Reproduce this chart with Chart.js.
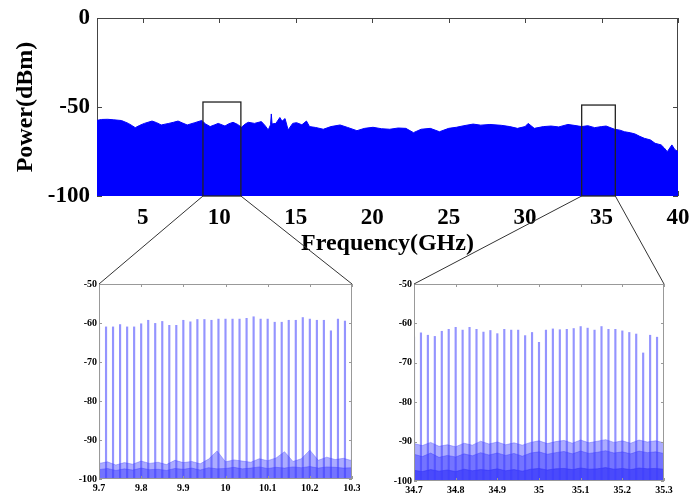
<!DOCTYPE html>
<html>
<head>
<meta charset="utf-8">
<script src="https://cdn.jsdelivr.net/npm/chart.js@4.4.0/dist/chart.umd.min.js"></script>
<style>
  body { margin: 0; background: #fff; }
  #wrap { position: relative; width: 689px; height: 497px; }
  canvas { position: absolute; }
</style>
</head>
<body>
<div id="wrap">
  <canvas id="topChart" width="689" height="258" style="left:0;top:0"></canvas>
  <canvas id="leftChart" width="300" height="227" style="left:60px;top:270px"></canvas>
  <canvas id="rightChart" width="310" height="227" style="left:370px;top:270px"></canvas>
  <canvas id="links" width="689" height="497" style="left:0;top:0;pointer-events:none"></canvas>
</div>
<script>
// full span spectrum (envelope)
const spanFreq = [2.0, 2.3, 2.7, 3.1, 3.6, 4.05, 4.3, 4.5, 4.8, 5.1, 5.6, 5.9, 6.2, 6.7, 7.0, 7.3, 7.6, 7.9, 8.4, 8.85,
  9.1, 9.4, 9.7, 9.93, 10.37, 10.6, 10.9, 11.2, 11.45, 11.7, 11.9, 12.3, 12.75, 13.0, 13.2, 13.35, 13.4, 13.45, 13.7, 13.96,
  14.1, 14.3, 14.5, 14.8, 15.05, 15.4, 15.7, 15.9, 16.3, 16.8, 17.3, 17.9, 18.4, 19.0, 19.5, 20.05, 20.6, 21.15, 21.7, 22.2,
  22.7, 23.2, 23.8, 24.4, 25.0, 25.5, 26.0, 26.6, 27.1, 27.7, 28.45, 29.0, 29.5, 30.0, 30.2, 30.6, 31.2, 31.7, 32.2, 32.8,
  33.2, 33.7, 34.1, 34.55, 35.0, 35.3, 35.85, 36.2, 36.5, 36.9, 37.2, 37.5, 37.8, 38.2, 38.5, 38.9, 39.1, 39.3, 39.6, 39.8, 40.0];
const spanPower = [-57.5, -57, -56.9, -57.2, -57.6, -59.2, -60.5, -61.6, -60.3, -59.2, -57.9, -58.8, -60.1, -59.2, -58.6, -57.9, -59, -60.1, -58.8, -57.6,
  -59.5, -61, -60, -59.2, -60.7, -59.5, -58.6, -59.8, -61.4, -59.5, -58.6, -59.2, -58.2, -60.5, -62.9, -60, -53.9, -59.5, -59.2, -55.9,
  -58, -56.5, -62.9, -59.2, -58.8, -60, -57.9, -61, -61.5, -62.5, -61, -60.1, -61.5, -63.3, -62, -61.4, -62.2, -62.5, -61.8, -62,
  -64.4, -62.5, -62, -63.9, -62, -61.4, -60.5, -59.6, -60.2, -59.8, -60.3, -61, -62, -61, -59.2, -62, -61, -60.7, -61.2, -59.8,
  -60.3, -61, -60.5, -61.6, -61, -60.7, -62.5, -63, -63.9, -64.5, -65.2, -66.5, -67.6, -68.5, -70.4, -71.3, -73, -75.1, -71.3, -74, -75];
const spanXTicks = [5, 10, 15, 20, 25, 30, 35, 40];
const spanYTicks = [-100, -50, 0];

// zoom boxes on the full span
const boxFrom = [8.93, 33.7];
const boxTo = [11.41, 35.9];
const boxTop = [-47.2, -48.9];

// 9.7 - 10.3 GHz comb
const leftCombFreq = [9.7, 9.7167, 9.7333, 9.75, 9.7667, 9.7833, 9.8, 9.8167, 9.8333, 9.85, 9.8667, 9.8833, 9.9, 9.9167, 9.9333, 9.95,
  9.9667, 9.9833, 10.0, 10.0167, 10.0333, 10.05, 10.0667, 10.0833, 10.1, 10.1167, 10.1333, 10.15, 10.1667, 10.1833, 10.2, 10.2167,
  10.2333, 10.25, 10.2667, 10.2833, 10.3];
const leftCombPeak = [-61, -61, -61, -60.4, -61, -61, -60.2, -59.3, -60.1, -59.6, -60.6, -60.6, -59.3, -59.7, -59.1, -59.1,
  -59.3, -59, -59, -59, -59, -58.8, -58.4, -59, -59, -59.8, -59.8, -59.3, -59.3, -58.6, -59, -59.3,
  -59.3, -62, -59, -59.5, -75];
const leftNoiseFreq = [9.70, 9.72, 9.74, 9.76, 9.78, 9.80, 9.82, 9.84, 9.86, 9.88, 9.90, 9.92, 9.94, 9.96, 9.98, 10.00,
  10.02, 10.04, 10.06, 10.08, 10.10, 10.12, 10.14, 10.16, 10.18, 10.20, 10.22, 10.24, 10.26, 10.28, 10.30];
const leftNoiseTop = [-96.0, -95.6, -96.4, -95.8, -96.2, -95.4, -96.0, -95.7, -96.3, -95.2, -95.8, -95.5, -96.1, -94.9, -92.8, -95.6,
  -95.1, -95.4, -95.7, -94.8, -95.3, -94.6, -93.0, -95.5, -94.8, -92.6, -95.2, -94.4, -95.0, -94.7, -95.3];
const leftNoiseLow = [-97.6, -97.3, -97.8, -97.4, -97.7, -97.2, -97.6, -97.5, -97.8, -97.3, -97.5, -97.2, -97.7, -97.1, -97.4, -97.3,
  -97.0, -97.4, -97.2, -96.9, -97.3, -97.0, -97.2, -96.9, -97.1, -96.8, -97.2, -96.9, -97.0, -97.2, -97.1];
const leftXTicks = [9.7, 9.8, 9.9, 10, 10.1, 10.2, 10.3];

// 34.7 - 35.3 GHz comb
const rightCombFreq = [34.7, 34.7167, 34.7333, 34.75, 34.7667, 34.7833, 34.8, 34.8167, 34.8333, 34.85, 34.8667, 34.8833, 34.9, 34.9167,
  34.9333, 34.95, 34.9667, 34.9833, 35.0, 35.0167, 35.0333, 35.05, 35.0667, 35.0833, 35.1, 35.1167, 35.1333, 35.15, 35.1667,
  35.1833, 35.2, 35.2167, 35.2333, 35.25, 35.2667, 35.2833];
const rightCombPeak = [-63.5, -62.4, -63, -63.3, -62, -61.5, -61, -61.7, -61, -61.5, -62.2, -61.8, -62.6, -61.5,
  -61.7, -61.7, -63.1, -62.3, -64.8, -61.7, -61.4, -61.6, -61.5, -61.3, -60.8, -61.2, -61.7, -60.8, -61.5,
  -61.5, -61.9, -62.3, -62.7, -67.5, -63, -63.5];
const rightNoiseFreq = [34.70, 34.72, 34.74, 34.76, 34.78, 34.80, 34.82, 34.84, 34.86, 34.88, 34.90, 34.92, 34.94, 34.96, 34.98, 35.00,
  35.02, 35.04, 35.06, 35.08, 35.10, 35.12, 35.14, 35.16, 35.18, 35.20, 35.22, 35.24, 35.26, 35.28, 35.30];
const rightNoiseTop = [-90.5, -91.0, -90.2, -91.2, -90.8, -91.3, -90.4, -90.9, -89.9, -90.6, -90.1, -90.8, -90.3, -90.9, -90.2, -89.8,
  -90.5, -90.0, -89.7, -90.4, -89.6, -90.3, -89.9, -89.5, -90.2, -89.8, -90.4, -89.6, -90.1, -89.8, -90.3];
const rightNoiseMid = [-93.2, -93.8, -92.9, -94.0, -93.5, -93.9, -93.1, -93.6, -92.8, -93.4, -92.9, -93.5, -93.0, -93.7, -92.9, -92.6,
  -93.2, -92.8, -92.5, -93.1, -92.4, -93.0, -92.7, -92.3, -92.9, -92.6, -93.1, -92.4, -92.8, -92.6, -93.0];
const rightNoiseLow = [-97.3, -97.6, -97.1, -97.5, -97.2, -97.6, -97.0, -97.4, -97.1, -97.3, -96.9, -97.4, -97.1, -97.5, -97.0, -96.8,
  -97.2, -96.9, -96.8, -97.1, -96.7, -97.0, -96.9, -96.6, -97.0, -96.8, -97.1, -96.7, -96.9, -96.8, -97.0];
const rightXTicks = [34.7, 34.8, 34.9, 35, 35.1, 35.2, 35.3];
const insetYTicks = [-100, -90, -80, -70, -60, -50];

const serif = 'Liberation Serif';
const pts = (xs, ys) => xs.map((x, i) => ({ x, y: ys[i] }));
const fmt = v => String(+v.toFixed(1));
const setTicks = list => scale => { scale.ticks = list.map(value => ({ value })); };
// fixed axis size, and no extra room reserved for the end labels
const fixX = h => s => { s.height = h; s.paddingLeft = 0; s.paddingRight = 0; };
const fixY = w => s => { s.width = w; s.paddingTop = 0; s.paddingBottom = 0; };

function drawFrame(chart, o) {
  const { ctx, chartArea: a, scales } = chart;
  ctx.save();
  ctx.strokeStyle = o.color;
  ctx.lineWidth = 1;
  ctx.strokeRect(a.left + 0.5, a.top + 0.5, a.right - a.left - 1, a.bottom - a.top - 1);
  ctx.beginPath();
  scales.x.ticks.forEach(t => {
    const x = Math.round(scales.x.getPixelForValue(t.value)) + 0.5;
    ctx.moveTo(x, a.top); ctx.lineTo(x, a.top + o.len);
    ctx.moveTo(x, a.bottom); ctx.lineTo(x, a.bottom - o.len);
  });
  scales.y.ticks.forEach(t => {
    const y = Math.round(scales.y.getPixelForValue(t.value)) + 0.5;
    ctx.moveTo(a.left, y); ctx.lineTo(a.left + o.len, y);
    ctx.moveTo(a.right, y); ctx.lineTo(a.right - o.len, y);
  });
  ctx.stroke();
  ctx.restore();
}

const framePlugin = {
  id: 'frame',
  beforeDatasetsDraw(chart, args, opts) { if (opts.under) drawFrame(chart, opts); },
  afterDatasetsDraw(chart, args, opts) { if (!opts.under) drawFrame(chart, opts); }
};

const boxPlugin = {
  id: 'boxes',
  afterDatasetsDraw(chart) {
    const { ctx, scales: { x, y } } = chart;
    ctx.save();
    ctx.strokeStyle = '#222';
    ctx.lineWidth = 1.3;
    boxFrom.forEach((f, i) => {
      const x0 = x.getPixelForValue(f), x1 = x.getPixelForValue(boxTo[i]);
      const y0 = y.getPixelForValue(boxTop[i]), y1 = y.getPixelForValue(-100);
      ctx.strokeRect(x0, y0, x1 - x0, y1 - y0);
    });
    ctx.restore();
  }
};

const topChart = new Chart(document.getElementById('topChart'), {
  type: 'line',
  data: {
    datasets: [{
      data: pts(spanFreq, spanPower),
      borderColor: '#0000ff',
      backgroundColor: '#0000ff',
      borderWidth: 1,
      pointRadius: 0,
      fill: 'start'
    }]
  },
  options: {
    responsive: false,
    animation: false,
    layout: { padding: { left: 0, right: 11, top: 18, bottom: 0 } },
    plugins: {
      legend: { display: false },
      tooltip: { enabled: false },
      frame: { under: true, color: '#444', len: 5 }
    },
    scales: {
      x: {
        type: 'linear', min: 2, max: 40,
        afterBuildTicks: setTicks(spanXTicks),
        afterFit: fixX(62),
        grid: { display: false, drawTicks: false },
        border: { display: false },
        ticks: { padding: 8, maxRotation: 0, autoSkip: false, color: '#000', font: { family: serif, size: 23, weight: 'bold' }, callback: fmt },
        title: { display: true, text: 'Frequency(GHz)', color: '#000', padding: { top: 0, bottom: 0 }, font: { family: serif, size: 24, weight: 'bold' } }
      },
      y: {
        min: -100, max: 0,
        afterBuildTicks: setTicks(spanYTicks),
        afterFit: fixY(97),
        grid: { display: false, drawTicks: false },
        border: { display: false },
        ticks: { padding: 7, color: '#000', font: { family: serif, size: 23, weight: 'bold' }, callback: fmt },
        title: { display: true, text: 'Power(dBm)', color: '#000', padding: { top: 11, bottom: 0 }, font: { family: serif, size: 24, weight: 'bold' } }
      }
    }
  },
  plugins: [framePlugin, boxPlugin]
});

function insetChart(id, combF, combP, noiseF, bands, xmin, xmax, xTicks, yWidth, xHeight, padRight) {
  const bandColors = ['rgba(70,70,255,0.45)', 'rgba(30,30,255,0.45)', 'rgba(0,0,230,0.55)'];
  const noiseSets = bands.map((b, i) => ({
    type: 'line',
    data: pts(noiseF, b),
    borderColor: bandColors[i],
    backgroundColor: bandColors[i],
    borderWidth: 0.8,
    pointRadius: 0,
    fill: 'start',
    order: 2
  }));
  return new Chart(document.getElementById(id), {
    type: 'bar',
    data: {
      datasets: [{
        type: 'bar',
        data: combF.map((f, i) => ({ x: f, y: [-100, combP[i]] })),
        backgroundColor: 'rgba(60,60,255,0.55)',
        barThickness: 1.5,
        grouped: false,
        order: 1
      }].concat(noiseSets)
    },
    options: {
      responsive: false,
      animation: false,
      layout: { padding: { left: 0, right: padRight, top: 14, bottom: 0 } },
      plugins: {
        legend: { display: false },
        tooltip: { enabled: false },
        frame: { under: false, color: '#999', len: 3 }
      },
      scales: {
        x: {
          type: 'linear', min: xmin, max: xmax, offset: false,
          afterBuildTicks: setTicks(xTicks),
          afterFit: fixX(xHeight),
          grid: { display: false, drawTicks: false, offset: false },
          border: { display: false },
          ticks: { padding: 3, maxRotation: 0, autoSkip: false, color: '#000', font: { family: serif, size: 10, weight: 'bold' }, callback: fmt }
        },
        y: {
          min: -100, max: -50,
          afterBuildTicks: setTicks(insetYTicks),
          afterFit: fixY(yWidth),
          grid: { display: false, drawTicks: false },
          border: { display: false },
          ticks: { padding: 2, color: '#000', font: { family: serif, size: 10, weight: 'bold' }, callback: fmt }
        }
      }
    },
    plugins: [framePlugin]
  });
}

const leftChart = insetChart('leftChart', leftCombFreq, leftCombPeak, leftNoiseFreq,
  [leftNoiseTop, leftNoiseLow], 9.7, 10.3, leftXTicks, 39, 18, 8);
const rightChart = insetChart('rightChart', rightCombFreq, rightCombPeak, rightNoiseFreq,
  [rightNoiseTop, rightNoiseMid, rightNoiseLow], 34.7, 35.3, rightXTicks, 44, 16, 16);

// connector lines from the zoom boxes to the insets
const lctx = document.getElementById('links').getContext('2d');
lctx.strokeStyle = '#333';
lctx.lineWidth = 1;
[[leftChart, 60, 270], [rightChart, 370, 270]].forEach(([inset, ox, oy], i) => {
  const x0 = topChart.scales.x.getPixelForValue(boxFrom[i]);
  const x1 = topChart.scales.x.getPixelForValue(boxTo[i]);
  const yb = topChart.scales.y.getPixelForValue(-100);
  const a = inset.chartArea;
  lctx.beginPath();
  lctx.moveTo(x0, yb); lctx.lineTo(ox + a.left, oy + a.top);
  lctx.moveTo(x1, yb); lctx.lineTo(ox + a.right, oy + a.top);
  lctx.stroke();
});
</script>
</body>
</html>
